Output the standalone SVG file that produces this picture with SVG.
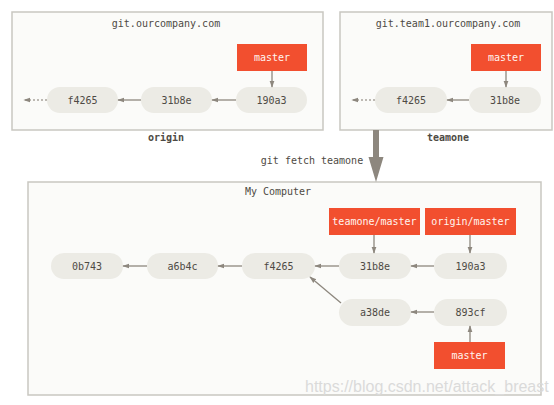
<svg xmlns="http://www.w3.org/2000/svg" width="554" height="405" viewBox="0 0 554 405">
<defs>
<style>
.box{fill:#fbfbf9;stroke:#c9c7c1;stroke-width:1.5}
.commit{fill:#ecebe5}
.ref{fill:#f24f2f}
.t{font-family:"DejaVu Sans Mono","Liberation Mono",monospace;font-size:10px;fill:#4e4a44;text-anchor:middle}
.rt{font-family:"DejaVu Sans Mono","Liberation Mono",monospace;font-size:10px;fill:#fff5f0;text-anchor:middle}
.b{font-weight:bold}
.c{stroke:#8d877e;stroke-width:1.3;fill:none;marker-end:url(#ah)}
.d{stroke:#a9a49c;stroke-width:1.3;fill:none;stroke-dasharray:2 2;marker-end:url(#ah)}
</style>
<marker id="ah" viewBox="0 0 10 10" refX="9" refY="5" markerWidth="7" markerHeight="7" markerUnits="userSpaceOnUse" orient="auto">
<path d="M0,1.5 L10,5 L0,8.5 z" fill="#8d877e"/>
</marker>
</defs>
<rect width="554" height="405" fill="#ffffff"/>

<g id="origin-box">
<rect class="box" x="12" y="12" width="311" height="118"/>
<text class="t" x="166" y="27">git.ourcompany.com</text>
<text class="t b" x="166" y="141">origin</text>
</g>
<g id="teamone-box">
<rect class="box" x="340" y="12" width="212" height="118"/>
<text class="t" x="448" y="27">git.team1.ourcompany.com</text>
<text class="t b" x="448" y="141">teamone</text>
</g>
<g id="computer-box">
<rect class="box" x="28" y="182" width="513" height="213"/>
<text class="t" x="278" y="195">My Computer</text>
</g>

<g id="o-master"><rect class="ref" x="237" y="44" width="70" height="27"/><text class="rt" x="272" y="61">master</text></g>
<g id="o-190a3"><rect class="commit" x="236" y="87" width="71" height="26" rx="13"/><text class="t" x="271.5" y="104">190a3</text></g>
<g id="o-31b8e"><rect class="commit" x="141" y="87" width="71" height="26" rx="13"/><text class="t" x="176.5" y="104">31b8e</text></g>
<g id="o-f4265"><rect class="commit" x="47" y="87" width="71" height="26" rx="13"/><text class="t" x="82.5" y="104">f4265</text></g>

<g id="t-master"><rect class="ref" x="471" y="44" width="70" height="27"/><text class="rt" x="506" y="61">master</text></g>
<g id="t-31b8e"><rect class="commit" x="469" y="87" width="72" height="26" rx="13"/><text class="t" x="505" y="104">31b8e</text></g>
<g id="t-f4265"><rect class="commit" x="375" y="87" width="72" height="26" rx="13"/><text class="t" x="411" y="104">f4265</text></g>

<g id="fetch-label"><text class="t" x="312" y="164">git fetch teamone</text></g>

<g id="c-0b743"><rect class="commit" x="51" y="253" width="72" height="26" rx="13"/><text class="t" x="87" y="270">0b743</text></g>
<g id="c-a6b4c"><rect class="commit" x="147" y="253" width="71" height="26" rx="13"/><text class="t" x="182.5" y="270">a6b4c</text></g>
<g id="c-f4265"><rect class="commit" x="242" y="253" width="73" height="26" rx="13"/><text class="t" x="278.5" y="270">f4265</text></g>
<g id="c-31b8e"><rect class="commit" x="339" y="253" width="72" height="26" rx="13"/><text class="t" x="375" y="270">31b8e</text></g>
<g id="c-190a3"><rect class="commit" x="434" y="253" width="73" height="26" rx="13"/><text class="t" x="470.5" y="270">190a3</text></g>
<g id="c-a38de"><rect class="commit" x="339" y="299" width="72" height="27" rx="13.5"/><text class="t" x="375" y="316">a38de</text></g>
<g id="c-893cf"><rect class="commit" x="434" y="299" width="73" height="27" rx="13.5"/><text class="t" x="470.5" y="316">893cf</text></g>
<g id="teamone-master"><rect class="ref" x="329" y="208" width="91" height="27"/><text class="rt" x="374.5" y="225">teamone/master</text></g>
<g id="origin-master"><rect class="ref" x="425" y="208" width="91" height="27"/><text class="rt" x="470.5" y="225">origin/master</text></g>
<g id="c-master"><rect class="ref" x="434" y="342" width="71" height="27"/><text class="rt" x="469.5" y="359">master</text></g>

<g id="connectors">
<line class="c" x1="272" y1="71" x2="272" y2="87"/>
<line class="c" x1="236" y1="100" x2="212" y2="100"/>
<line class="c" x1="141" y1="100" x2="118" y2="100"/>
<line class="d" x1="47" y1="100" x2="24" y2="100"/>
<line class="c" x1="506" y1="71" x2="506" y2="87"/>
<line class="c" x1="469" y1="100" x2="447" y2="100"/>
<line class="d" x1="375" y1="100" x2="352" y2="100"/>
<path d="M373,130 L379,130 L379,157 L383.5,157 L376,182 L368.5,157 L373,157 Z" fill="#8d877e"/>
<line class="c" x1="374" y1="235" x2="374" y2="253"/>
<line class="c" x1="470" y1="235" x2="470" y2="253"/>
<line class="c" x1="434" y1="266" x2="411" y2="266"/>
<line class="c" x1="339" y1="266" x2="315" y2="266"/>
<line class="c" x1="242" y1="266" x2="218" y2="266"/>
<line class="c" x1="147" y1="266" x2="123" y2="266"/>
<line class="c" x1="434" y1="312" x2="411" y2="312"/>
<line class="c" x1="470" y1="342" x2="470" y2="326"/>
<line class="c" x1="341" y1="303" x2="310" y2="277"/>
</g>
<text x="305" y="392" font-family="'Liberation Sans',Arial,sans-serif" font-size="16" fill="#dadada">https://blog.csdn.net/attack_breast</text>
</svg>
